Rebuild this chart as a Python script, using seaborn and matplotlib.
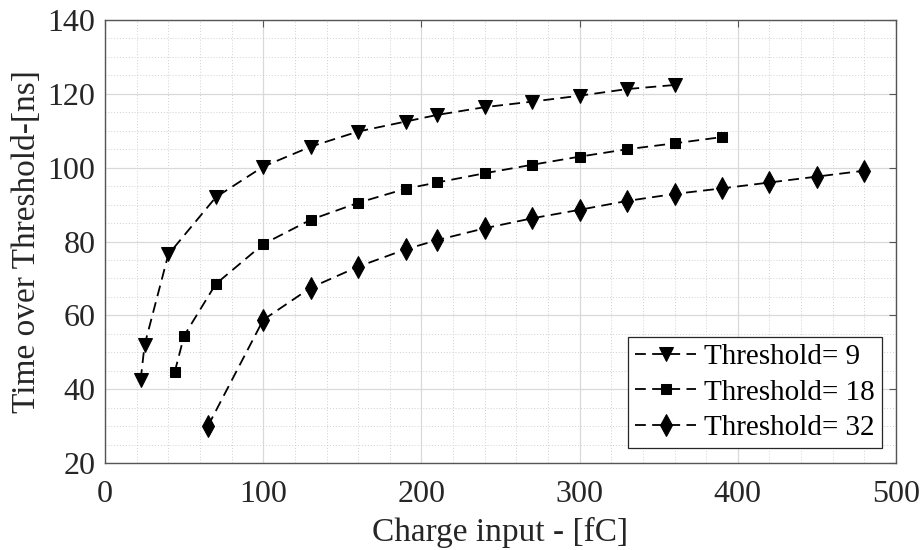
import matplotlib
matplotlib.use("Agg")
import matplotlib.pyplot as plt
import seaborn as sns
import pandas as pd
from matplotlib.ticker import MultipleLocator

# Data
x_t9 = [22.5, 25, 40, 70, 100, 130, 160, 190, 210, 240, 270, 300, 330, 360]
y_t9 = [42.5, 52, 76.5, 92, 100.3, 105.7, 109.8, 112.5, 114.3, 116.4, 117.9, 119.5, 121.3, 122.4]
x_t18 = [44, 50, 70, 100, 130, 160, 190, 210, 240, 270, 300, 330, 360, 390]
y_t18 = [44.6, 54.5, 68.5, 79.3, 85.9, 90.5, 94.3, 96, 98.5, 100.8, 103, 105, 106.6, 108.3]
x_t32 = [65, 100, 130, 160, 190, 210, 240, 270, 300, 330, 360, 390, 420, 450, 480]
y_t32 = [30, 58.8, 67.5, 73.2, 77.9, 80.4, 83.6, 86.3, 88.6, 91, 92.9, 94.4, 96, 97.6, 99.2]
labels = ["Threshold= 9", "Threshold= 18", "Threshold= 32"]
xticks = [0, 100, 200, 300, 400, 500]
yticks = [20, 40, 60, 80, 100, 120, 140]

sns.set_theme(style="white")
plt.rcParams['font.family'] = ['Liberation Serif', 'DejaVu Serif']

fig = plt.figure(figsize=(9.23, 5.5), dpi=100)
ax = fig.add_axes([0.1138, 0.158, 0.857, 0.8056])

dark = '#262626'
series = [(x_t9, y_t9, 'v', 9.5), (x_t18, y_t18, 's', 7.0), (x_t32, y_t32, 'd', 11.0)]
for (xs, ys, m, ms), lab in zip(series, labels):
    df = pd.DataFrame({"x": xs, "y": ys})
    sns.lineplot(data=df, x="x", y="y", ax=ax, sort=False, color='black',
                 marker=m, markersize=ms, markeredgecolor='black',
                 markerfacecolor='black', linewidth=1.3,
                 linestyle=(0, (6, 3.5)), label=lab)

ax.set_xlim(0, 500)
ax.set_ylim(20, 140)
ax.set_xticks(xticks)
ax.set_yticks(yticks)
ax.xaxis.set_minor_locator(MultipleLocator(20))
ax.yaxis.set_minor_locator(MultipleLocator(5))
ax.grid(True, which='major', color='#d9d9d9', linewidth=0.9, linestyle='-')
ax.grid(True, which='minor', color='#d0d0d0', linewidth=0.7, linestyle=(0, (1, 2)))
ax.set_axisbelow(True)

for sp in ax.spines.values():
    sp.set_color('#555555')
    sp.set_linewidth(1.0)

ax.tick_params(which='major', direction='in', length=5, width=0.8, colors='#555555',
               top=True, right=True, labelsize=23, labelcolor=dark)
ax.tick_params(axis='x', which='major', pad=12)
ax.tick_params(axis='y', which='major', pad=7)
ax.tick_params(which='minor', length=0, top=True, right=True)

ax.set_xlabel("Charge input - [fC]", fontsize=24, color=dark, labelpad=6)
ax.set_ylabel("Time over Threshold-[ns]", fontsize=24, color=dark, labelpad=4)

leg = ax.legend(loc='lower right', bbox_to_anchor=(0.982, 0.034), borderaxespad=0,
                fontsize=21, frameon=True, fancybox=False, edgecolor=dark,
                handlelength=2.1, handletextpad=0.25, labelspacing=0.3,
                borderpad=0.25, framealpha=1)
leg.get_frame().set_linewidth(0.9)
for t in leg.get_texts():
    t.set_color('black')

fig.savefig("out.png", dpi=100)
